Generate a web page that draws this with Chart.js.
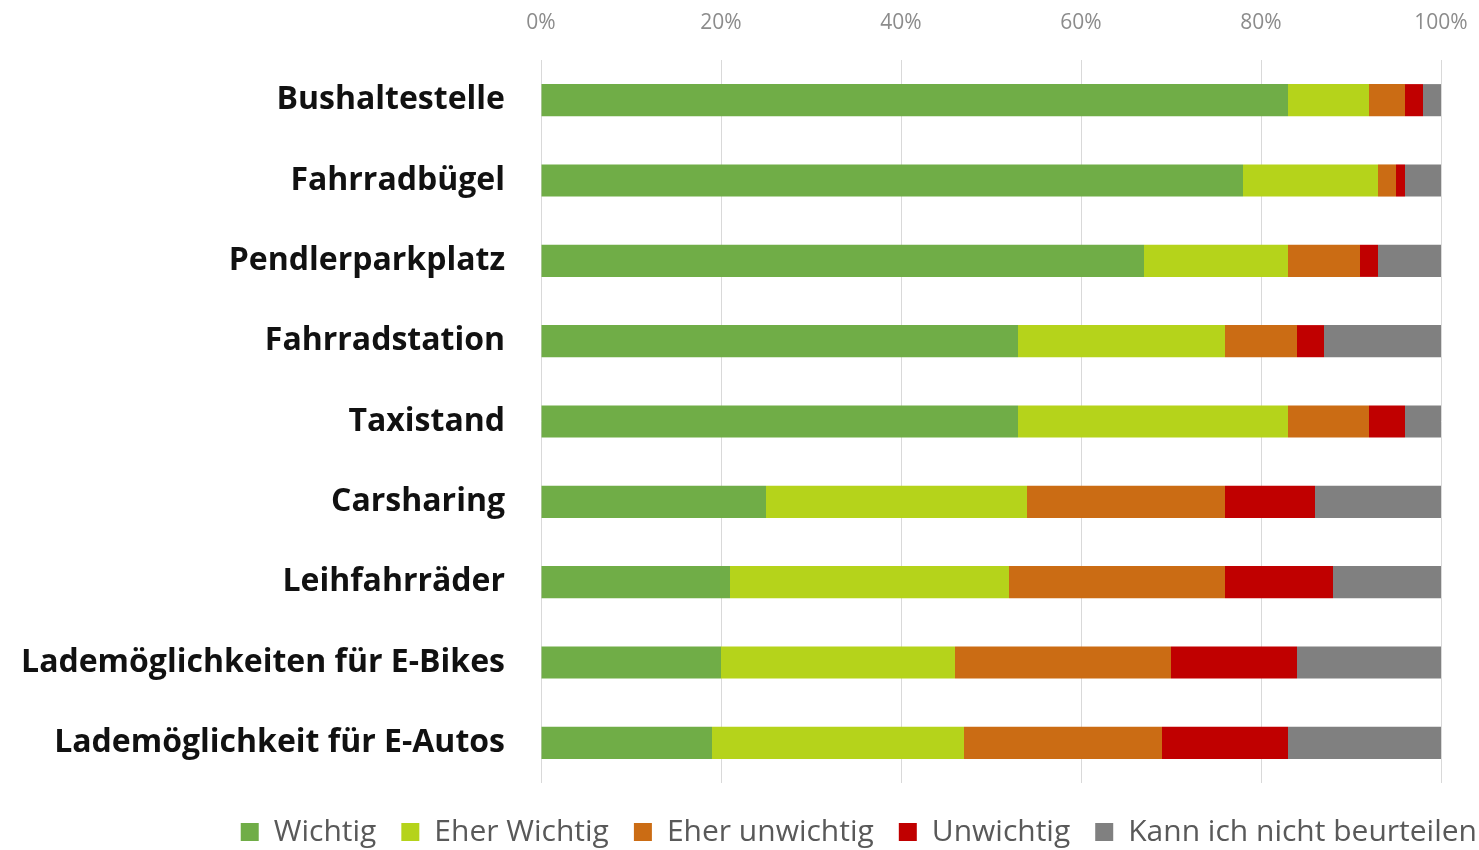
<!DOCTYPE html>
<html>
<head>
<meta charset="utf-8">
<script src="https://cdn.jsdelivr.net/npm/chart.js@4.4.1/dist/chart.umd.min.js"></script>
<style>
  html, body { margin: 0; padding: 0; background: #ffffff; }
  #wrap { width: 1479px; height: 850px; position: relative; }
</style>
</head>
<body>
<div id="wrap"><canvas id="c" width="1479" height="850"></canvas></div>
<script>
const categories = [
  "Bushaltestelle",
  "Fahrradbügel",
  "Pendlerparkplatz",
  "Fahrradstation",
  "Taxistand",
  "Carsharing",
  "Leihfahrräder",
  "Lademöglichkeiten für E-Bikes",
  "Lademöglichkeit für E-Autos"
];
const seriesNames = ["Wichtig", "Eher Wichtig", "Eher unwichtig", "Unwichtig", "Kann ich nicht beurteilen"];
const wichtig        = [83, 78, 67, 53, 53, 25, 21, 20, 19];
const eherWichtig    = [9, 15, 16, 23, 30, 29, 31, 26, 28];
const eherUnwichtig  = [4, 2, 8, 8, 9, 22, 24, 24, 22];
const unwichtig      = [2, 1, 2, 3, 4, 10, 12, 14, 14];
const kannNicht      = [2, 4, 7, 13, 4, 14, 12, 16, 17];
const tickValues     = [0, 20, 40, 60, 80, 100];
const colors = ["#70AD47", "#B5D31B", "#CB6C14", "#C00000", "#808080"];

const seriesData = [wichtig, eherWichtig, eherUnwichtig, unwichtig, kannNicht];

const datasets = seriesNames.map((name, i) => ({
  label: name,
  data: seriesData[i],
  backgroundColor: colors[i],
  borderWidth: 0,
  barPercentage: 0.4,
  categoryPercentage: 1.0
}));

const legendShift = {
  id: 'legendShift',
  afterLayout(chart) {
    const l = chart.legend;
    if (!l) return;
    const dx = 61, dy = 9;
    l.left += dx; l.right += dx;
    l.top += dy; l.bottom += dy;
  }
};

new Chart(document.getElementById('c'), {
  type: 'bar',
  data: { labels: categories, datasets: datasets },
  plugins: [legendShift],
  options: {
    indexAxis: 'y',
    responsive: false,
    animation: false,
    layout: { padding: { left: 0, right: 38, top: 0, bottom: 2 } },
    scales: {
      x: {
        position: 'top',
        stacked: true,
        min: 0,
        max: 100,
        afterBuildTicks: (scale) => { scale.ticks = tickValues.map(v => ({ value: v })); },
        afterFit: (scale) => { scale.height = 60; scale.paddingRight = 0; scale.paddingLeft = 0; },
        grid: { color: '#d9d9d9', lineWidth: 1, drawTicks: false },
        border: { display: false },
        ticks: {
          padding: 24,
          color: '#8c8c8c',
          font: { family: 'Open Sans', size: 21 },
          callback: (v) => v + '%'
        }
      },
      y: {
        stacked: true,
        afterFit: (scale) => { scale.width = 541; },
        grid: { display: false, drawTicks: false },
        border: { display: false },
        ticks: {
          padding: 36,
          color: '#111111',
          font: { family: 'Open Sans', size: 32, weight: 'bold' }
        }
      }
    },
    plugins: {
      tooltip: { enabled: false },
      legend: {
        position: 'bottom',
        align: 'end',
        labels: {
          boxWidth: 18,
          boxHeight: 18,
          padding: 25,
          color: '#595959',
          font: { family: 'Open Sans', size: 30 }
        }
      }
    }
  }
});
</script>
</body>
</html>
